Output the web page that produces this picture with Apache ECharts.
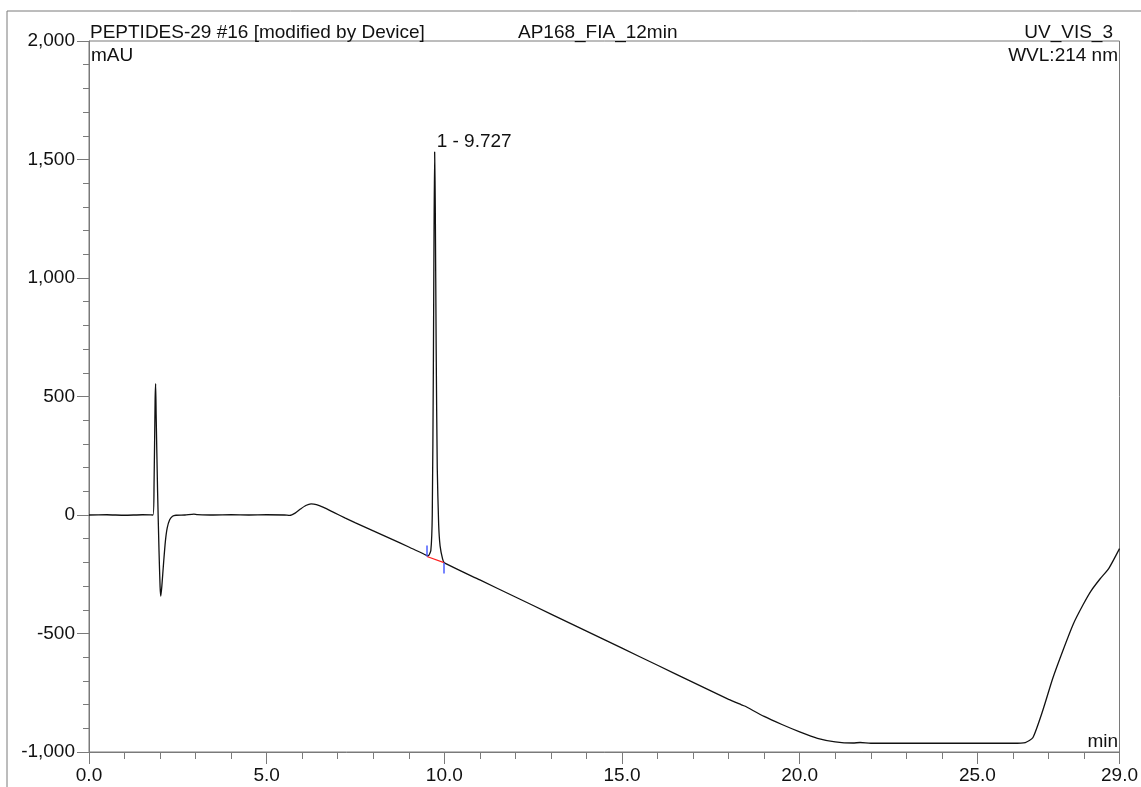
<!DOCTYPE html>
<html>
<head>
<meta charset="utf-8">
<script src="https://cdn.jsdelivr.net/npm/echarts@6/dist/echarts.min.js"></script>
<style>
  html, body { margin: 0; padding: 0; background: #fff; }
  #chart { width: 1141px; height: 787px; }
</style>
</head>
<body>
<div id="chart"></div>
<script>
// Retention time (min) of each recorded point
const timeMin = [
  0.00, 0.50, 1.00, 1.50, 1.80, 1.83, 1.86, 1.875, 1.89, 1.93, 1.97, 2.00, 2.02, 2.05, 2.10, 2.15,
  2.20, 2.27, 2.35, 2.45, 2.70, 2.95, 3.05, 3.50, 4.00, 4.50, 5.00, 5.50, 5.65, 5.80, 5.95, 6.10,
  6.25, 6.40, 6.60, 6.90, 7.20, 7.50, 8.00, 8.50, 9.00, 9.50, 9.55, 9.62, 9.66, 9.69, 9.71, 9.727,
  9.745, 9.77, 9.80, 9.84, 9.88, 9.95, 10.00, 11.00, 12.00, 13.00, 14.00, 15.00, 16.00, 17.00,
  18.00, 18.35, 18.45, 19.00, 19.50, 20.00, 20.50, 21.00, 21.50, 21.70, 22.00, 23.00, 24.00, 25.00,
  26.00, 26.35, 26.56, 26.84, 27.12, 27.40, 27.70, 27.97, 28.20, 28.45, 28.70, 29.00
];
// UV absorbance at 214 nm (mAU)
const absMAU = [
  0, 1, -1, 1, 0, 120, 480, 554, 420, 100, -150, -300, -342, -300, -200, -110,
  -55, -20, -5, -1, 0, 4, 2, 0, 1, 0, 1, 0, -2, 8, 25, 40,
  47, 44, 32, 10, -12, -33, -67, -101, -135, -170, -172, -150, 0, 600, 1200, 1532,
  1300, 700, 200, -40, -130, -185, -202, -274, -346, -418, -490, -562, -634, -706,
  -778, -800, -806, -850, -884, -915, -942, -957, -962, -960, -963, -963, -963, -963,
  -963, -960, -940, -825, -690, -575, -460, -380, -320, -270, -225, -142
];

// Integrated peak: name, apex, baseline start/end
const peakLabel = '1 - 9.727';
const peakApex = [9.727, 1532];
const peakBaseStart = [9.51, -175];
const peakBaseEnd = [9.99, -201];

// Axis tick labels
const xMajorTicks = [0, 5, 10, 15, 20, 25, 29];
const yRange = [-1000, 2000];

const FONT = '"Liberation Sans", Arial, sans-serif';
const AXIS_GREY = '#7a7a7a';

const chart = echarts.init(document.getElementById('chart'), null, { renderer: 'canvas' });

const trace = timeMin.map((t, i) => [t, absMAU[i]]);

const option = {
  animation: false,
  backgroundColor: '#fff',
  grid: {
    left: 89, top: 41, width: 1031, height: 711,
    show: true, borderColor: AXIS_GREY, borderWidth: 1, backgroundColor: 'transparent'
  },
  xAxis: [
    {
      type: 'value', min: 0, max: 29, interval: 1, position: 'bottom',
      axisLine: { show: true, onZero: false, lineStyle: { color: AXIS_GREY, width: 1 } },
      axisTick: { show: true, length: 7, lineStyle: { color: AXIS_GREY } },
      axisLabel: {
        customValues: xMajorTicks,
        formatter: v => v.toFixed(1),
        color: '#111', fontFamily: FONT, fontSize: 19, margin: 14
      },
      splitLine: { show: false }
    },
    {
      type: 'value', min: 0, max: 29, position: 'bottom',
      axisLine: { show: false, onZero: false },
      axisTick: { show: true, customValues: xMajorTicks, length: 12, lineStyle: { color: AXIS_GREY } },
      axisLabel: { show: false },
      splitLine: { show: false }
    }
  ],
  yAxis: {
    type: 'value', min: yRange[0], max: yRange[1], interval: 500,
    axisLine: { show: true, onZero: false, lineStyle: { color: AXIS_GREY, width: 1 } },
    axisTick: { show: true, length: 12, lineStyle: { color: AXIS_GREY } },
    minorTick: { show: true, splitNumber: 5, length: 6, lineStyle: { color: AXIS_GREY } },
    axisLabel: {
      formatter: v => v.toLocaleString('en-US'),
      color: '#111', fontFamily: FONT, fontSize: 19, margin: 14
    },
    splitLine: { show: false },
    minorSplitLine: { show: false }
  },
  series: [
    {
      type: 'line',
      data: trace,
      showSymbol: false,
      smooth: 0.2,
      lineStyle: { color: '#111', width: 1.3 },
      z: 3,
      markPoint: {
        symbol: 'circle', symbolSize: 0,
        data: [{ coord: peakApex, value: peakLabel }],
        label: {
          show: true, formatter: peakLabel, position: 'inside',
          align: 'left', verticalAlign: 'bottom', offset: [2, -1],
          color: '#111', fontFamily: FONT, fontSize: 19
        }
      },
      markLine: {
        silent: true, symbol: 'none', animation: false,
        label: { show: false },
        data: [
          [{ coord: peakBaseStart, lineStyle: { color: '#ff2020', width: 1.2, type: 'solid' } }, { coord: peakBaseEnd }],
          [{ coord: [peakBaseStart[0], peakBaseStart[1] + 46], lineStyle: { color: '#4a5cff', width: 1.5, type: 'solid' } }, { coord: peakBaseStart }],
          [{ coord: peakBaseEnd, lineStyle: { color: '#4a5cff', width: 1.5, type: 'solid' } }, { coord: [peakBaseEnd[0], peakBaseEnd[1] - 46] }]
        ]
      }
    }
  ],
  graphic: [
    // page frame
    { type: 'line', shape: { x1: 7, y1: 11, x2: 1141, y2: 11 }, style: { stroke: AXIS_GREY, lineWidth: 1 } },
    { type: 'line', shape: { x1: 7, y1: 11, x2: 7, y2: 787 }, style: { stroke: AXIS_GREY, lineWidth: 1 } },
    // header
    { type: 'text', x: 90, y: 42, style: { text: 'PEPTIDES-29 #16 [modified by Device]', font: '19px ' + FONT, fill: '#111', textVerticalAlign: 'bottom' } },
    { type: 'text', x: 518, y: 42, style: { text: 'AP168_FIA_12min', font: '19px ' + FONT, fill: '#111', textVerticalAlign: 'bottom' } },
    { type: 'text', x: 1113, y: 42, style: { text: 'UV_VIS_3', font: '19px ' + FONT, fill: '#111', textAlign: 'right', textVerticalAlign: 'bottom' } },
    { type: 'text', x: 91, y: 65, style: { text: 'mAU', font: '19px ' + FONT, fill: '#111', textVerticalAlign: 'bottom' } },
    { type: 'text', x: 1118, y: 65, style: { text: 'WVL:214 nm', font: '19px ' + FONT, fill: '#111', textAlign: 'right', textVerticalAlign: 'bottom' } },
    { type: 'text', x: 1118, y: 751, style: { text: 'min', font: '19px ' + FONT, fill: '#111', textAlign: 'right', textVerticalAlign: 'bottom' } }
  ]
};

chart.setOption(option);
</script>
</body>
</html>
